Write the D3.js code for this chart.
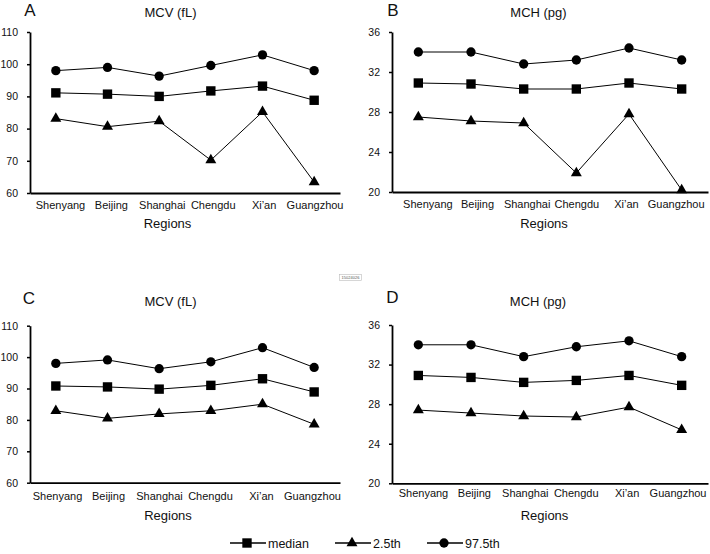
<!DOCTYPE html>
<html><head><meta charset="utf-8">
<script src="https://cdn.jsdelivr.net/npm/d3@7"></script>
<style>body{margin:0;background:#fff}svg{display:block}</style>
</head><body>
<svg id="chart" width="710" height="554"></svg>
<script>
const regions = ["Shenyang","Beijing","Shanghai","Chengdu","Xi\u2019an","Guangzhou"];

const mcvA_median = [91.1, 90.7, 90.0, 91.7, 93.2, 88.8];
const mcvA_p2_5   = [83.1, 80.6, 82.3, 70.2, 85.2, 63.4];
const mcvA_p97_5  = [98.0, 99.0, 96.3, 99.6, 102.9, 98.0];

const mchB_median = [30.9, 30.8, 30.3, 30.3, 30.9, 30.3];
const mchB_p2_5   = [27.5, 27.1, 26.9, 21.9, 27.8, 20.2];
const mchB_p97_5  = [34.0, 34.0, 32.8, 33.2, 34.4, 33.2];

const mcvC_median = [90.8, 90.5, 89.8, 91.0, 93.1, 88.9];
const mcvC_p2_5   = [82.9, 80.5, 81.9, 82.9, 85.0, 78.6];
const mcvC_p97_5  = [98.0, 99.1, 96.3, 98.5, 103.0, 96.7];

const mchD_median = [30.9, 30.7, 30.2, 30.4, 30.9, 29.9];
const mchD_p2_5   = [27.4, 27.1, 26.8, 26.7, 27.7, 25.4];
const mchD_p97_5  = [34.0, 34.0, 32.8, 33.8, 34.4, 32.8];

const mcvTicks = [60, 70, 80, 90, 100, 110];
const mchTicks = [20, 24, 28, 32, 36];

const seriesNames = ["median", "2.5th", "97.5th"];
const seriesSymbols = [d3.symbolSquare, d3.symbolTriangle, d3.symbolCircle];
const seriesSizes = [88, 52, 68];

const panels = [
  {letter:"A", title:"MCV (fL)", ticks:mcvTicks, domain:[60,110], data:[mcvA_median,mcvA_p2_5,mcvA_p97_5],
   x:[30,340], y:[193,32], lx:[34.5,340], labY:209, regY:228, titleX:170.5, titleY:17, regX:167.5, letX:30, letY:15.5, tickEnd:18},
  {letter:"B", title:"MCH (pg)", ticks:mchTicks, domain:[20,36], data:[mchB_median,mchB_p2_5,mchB_p97_5],
   x:[392,708], y:[192,32], lx:[402.5,700.5], labY:208, regY:228, titleX:538.5, titleY:17, regX:544, letX:393, letY:15.5, tickEnd:380},
  {letter:"C", title:"MCV (fL)", ticks:mcvTicks, domain:[60,110], data:[mcvC_median,mcvC_p2_5,mcvC_p97_5],
   x:[30,340], y:[482.7,325.7], lx:[31.5,337.5], labY:499.5, regY:519.5, titleX:170.5, titleY:306, regX:168, letX:29, letY:304, tickEnd:18},
  {letter:"D", title:"MCH (pg)", ticks:mchTicks, domain:[20,36], data:[mchD_median,mchD_p2_5,mchD_p97_5],
   x:[392,708], y:[483.3,325], lx:[397.5,703], labY:497, regY:519.5, titleX:538, titleY:306, regX:544.5, letX:392.5, letY:303, tickEnd:380}
];

const svg = d3.select("#chart");
const FONT = "'Liberation Sans', Arial, sans-serif";

panels.forEach(p => {
  const g = svg.append("g");
  const x = d3.scalePoint().domain(regions).range(p.x).padding(0.5);
  const xl = d3.scalePoint().domain(regions).range(p.lx).padding(0.5);
  const y = d3.scaleLinear().domain(p.domain).range(p.y);

  // y axis
  const ya = g.append("g").attr("transform", `translate(${p.x[0]},0)`)
    .call(d3.axisLeft(y).tickValues(p.ticks).tickSize(3).tickSizeOuter(0).tickPadding(p.x[0] - p.tickEnd - 3));
  ya.select(".domain").attr("stroke", "#000").attr("stroke-width", 1.8);
  ya.selectAll(".tick line").attr("stroke", "#000").attr("stroke-width", 1.5);
  ya.selectAll(".tick text").attr("font-family", FONT).attr("font-size", 10.5).attr("fill", "#111");

  // x axis line
  const xa = g.append("g").attr("transform", `translate(0,${p.y[0]})`)
    .call(d3.axisBottom(d3.scaleLinear().range(p.x)).ticks(0).tickSize(0).tickSizeOuter(0));
  xa.select(".domain").attr("stroke", "#000").attr("stroke-width", 1.8);

  // category labels
  const xla = g.append("g").attr("transform", `translate(0,${p.labY})`)
    .call(d3.axisBottom(xl).tickSize(0).tickPadding(0));
  xla.select(".domain").remove();
  xla.selectAll(".tick text").attr("dy", 0).attr("font-family", FONT).attr("font-size", 11).attr("fill", "#111");

  // titles
  g.append("text").attr("x", p.titleX).attr("y", p.titleY).attr("text-anchor", "middle")
    .attr("font-family", FONT).attr("font-size", 13).attr("fill", "#111").text(p.title);
  g.append("text").attr("x", p.regX).attr("y", p.regY).attr("text-anchor", "middle")
    .attr("font-family", FONT).attr("font-size", 13).attr("fill", "#111").text("Regions");
  g.append("text").attr("x", p.letX).attr("y", p.letY).attr("text-anchor", "middle")
    .attr("font-family", FONT).attr("font-size", 17).attr("fill", "#111").text(p.letter);

  // series
  const line = d3.line().x((d, i) => x(regions[i])).y(d => y(d));
  p.data.forEach((vals, si) => {
    g.append("path").datum(vals).attr("d", line).attr("fill", "none").attr("stroke", "#000").attr("stroke-width", 1);
    g.selectAll(null).data(vals).join("path")
      .attr("transform", (d, i) => `translate(${x(regions[i])},${y(d)})`)
      .attr("d", d3.symbol().type(seriesSymbols[si]).size(seriesSizes[si])())
      .attr("fill", "#000");
  });
});

// small stray label box
svg.append("rect").attr("x", 339.5).attr("y", 274.5).attr("width", 22).attr("height", 6)
  .attr("fill", "#fff").attr("stroke", "#bbb").attr("stroke-width", 0.6);
svg.append("text").attr("x", 350.5).attr("y", 279).attr("text-anchor", "middle")
  .attr("font-family", FONT).attr("font-size", 4).attr("fill", "#555").text("15024026");

// legend
const legendX = [230, 335, 427];
const leg = svg.append("g");
seriesNames.forEach((name, si) => {
  const x0 = legendX[si];
  leg.append("line").attr("x1", x0).attr("x2", x0 + 36).attr("y1", 543).attr("y2", 543)
    .attr("stroke", "#000").attr("stroke-width", 1.3);
  leg.append("path").attr("transform", `translate(${x0 + 17},543)`)
    .attr("d", d3.symbol().type(seriesSymbols[si]).size(seriesSizes[si])()).attr("fill", "#000");
  leg.append("text").attr("x", x0 + 38).attr("y", 547.5).attr("font-family", FONT)
    .attr("font-size", 12.5).attr("fill", "#111").text(name);
});
</script>
</body></html>
